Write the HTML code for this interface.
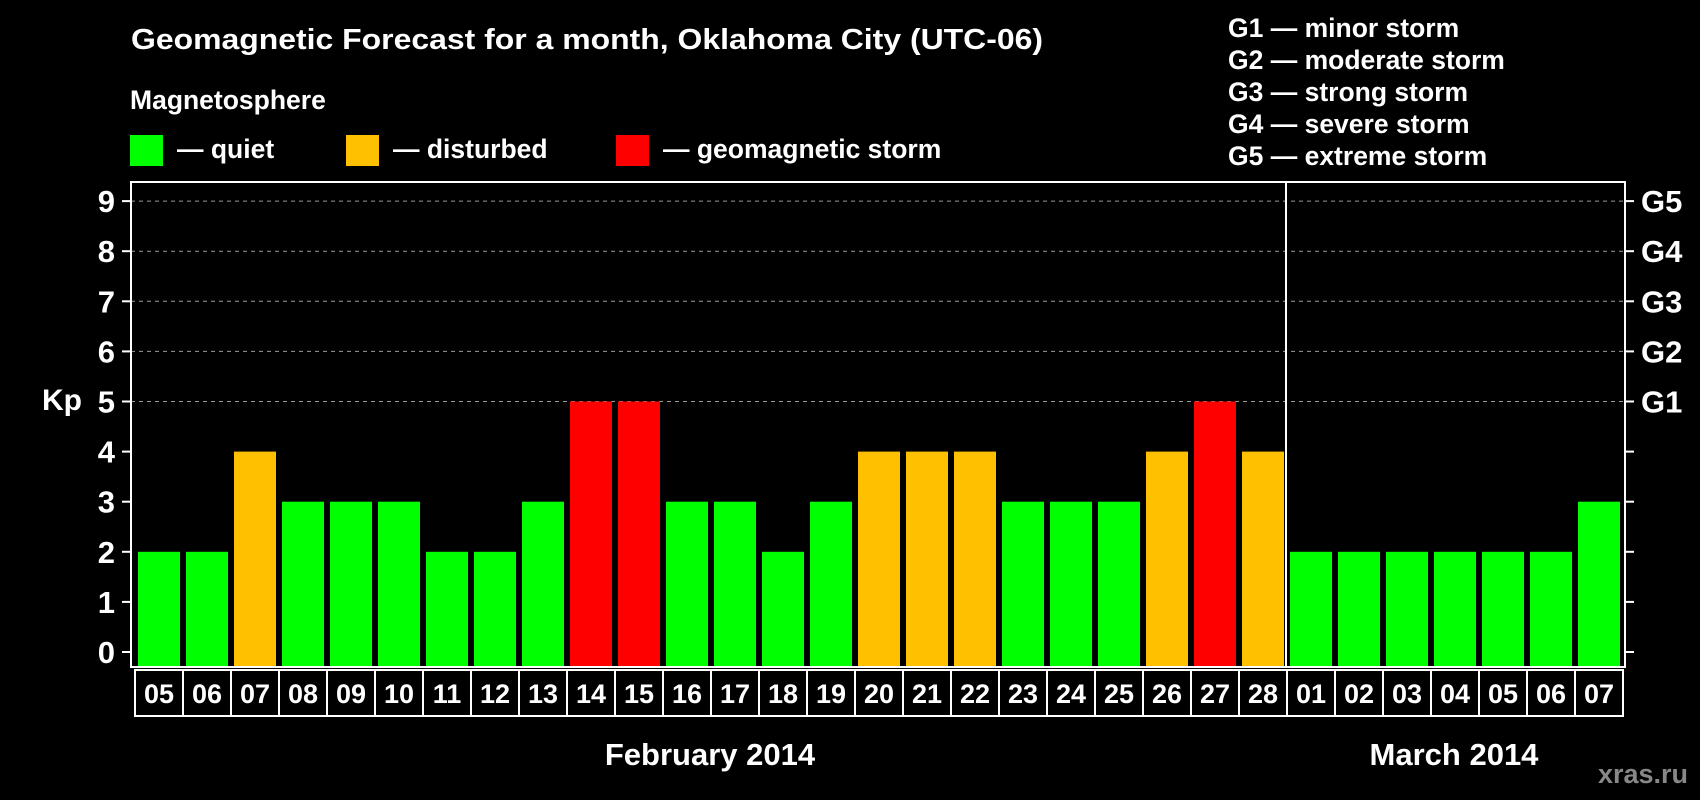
<!DOCTYPE html>
<html><head><meta charset="utf-8"><style>
html,body{margin:0;padding:0;background:#000;}
svg{display:block;font-family:"Liberation Sans",Arial,sans-serif;font-weight:bold;}
</style></head><body>
<svg id="chart" width="1700" height="800" viewBox="0 0 1700 800">
<rect width="1700" height="800" fill="#000"/>
<text x="131" y="49" font-size="29" fill="#fff" textLength="912" lengthAdjust="spacingAndGlyphs">Geomagnetic Forecast for a month, Oklahoma City (UTC-06)</text>
<text x="130" y="109" font-size="26.5" fill="#fff">Magnetosphere</text>
<g><rect x="130" y="135" width="33" height="31" fill="#00ff00"/><text x="177" y="158" font-size="26.5" fill="#fff">— quiet</text></g>
<g><rect x="346" y="135" width="33" height="31" fill="#ffc000"/><text x="393" y="158" font-size="26.5" fill="#fff">— disturbed</text></g>
<g><rect x="616" y="135" width="33" height="31" fill="#ff0000"/><text x="663" y="158" font-size="26.5" fill="#fff">— geomagnetic storm</text></g>
<g font-size="26.5" fill="#fff">
<text x="1228" y="37">G1 — minor storm</text>
<text x="1228" y="69">G2 — moderate storm</text>
<text x="1228" y="101">G3 — strong storm</text>
<text x="1228" y="133">G4 — severe storm</text>
<text x="1228" y="165">G5 — extreme storm</text>
</g>
<text x="42" y="410" font-size="30" fill="#fff">Kp</text>
<g id="grid"></g>
<g id="bars"></g>
<g id="axes"></g>
<text x="710" y="765" font-size="31" fill="#fff" text-anchor="middle">February 2014</text>
<text x="1454" y="765" font-size="31" fill="#fff" text-anchor="middle">March 2014</text>
<text x="1688" y="783" font-size="27" fill="#888" text-anchor="end">xras.ru</text>
</svg>
<script>
const days = ["05","06","07","08","09","10","11","12","13","14","15","16","17","18","19","20","21","22","23","24","25","26","27","28","01","02","03","04","05","06","07"];
const kpValues = [2,2,4,3,3,3,2,2,3,5,5,3,3,2,3,4,4,4,3,3,3,4,5,4,2,2,2,2,2,2,3];
const yTicks = [0,1,2,3,4,5,6,7,8,9];
const gLabels = ["G1","G2","G3","G4","G5"];
const gLevels = [5,6,7,8,9];

const NS="http://www.w3.org/2000/svg";
const X0=135, SLOT=48, BAR=42, FL=131, FR=1625, FT=182, FB=667;
function y(v){return 652-50.1*v;}
function xSlot(i){return X0+SLOT*i;}
function mk(tag,attrs,parent){const e=document.createElementNS(NS,tag);for(const k in attrs)e.setAttribute(k,attrs[k]);parent.appendChild(e);return e;}
function color(v){return v>=5?"#ff0000":(v>=4?"#ffc000":"#00ff00");}
const grid=document.getElementById("grid"), bars=document.getElementById("bars"), axes=document.getElementById("axes");
for(const t of yTicks){
  if(t>=5){const l=mk("line",{x1:FL,x2:FR,y1:y(t),y2:y(t),stroke:"#999","stroke-dasharray":"4,4","stroke-width":1},grid);
  
  }
  const tl=mk("line",{x1:122,x2:FL,y1:y(t),y2:y(t),stroke:"#fff","stroke-width":2},axes);
  
  
  const tr=mk("line",{x1:FR,x2:1634,y1:y(t),y2:y(t),stroke:"#fff","stroke-width":2},axes);
  
  
  const tx=mk("text",{x:115,y:y(t)+11,"font-size":31,fill:"#fff","text-anchor":"end"},axes);
  tx.textContent=t;
  
  
}
gLabels.forEach((g,i)=>{
  const tx=mk("text",{x:1641,y:y(gLevels[i])+11,"font-size":31,fill:"#fff"},axes);
  tx.textContent=g;
  
  
});
kpValues.forEach((v,i)=>{
  const r=mk("rect",{x:xSlot(i)+3,y:y(v),width:BAR,height:666-y(v),fill:color(v)},bars);
  
  
  const c=mk("rect",{x:xSlot(i),y:670,width:SLOT,height:46,fill:"none",stroke:"#fff","stroke-width":2},axes);
  
  
  const t=mk("text",{x:xSlot(i)+SLOT/2,y:703,"font-size":27,fill:"#fff","text-anchor":"middle"},axes);
  t.textContent=days[i];
  
  
});
const f=mk("rect",{x:FL,y:FT,width:FR-FL,height:FB-FT,fill:"none",stroke:"#fff","stroke-width":2},axes);


const sep=mk("line",{x1:xSlot(24)-1,x2:xSlot(24)-1,y1:FT,y2:FB,stroke:"#fff","stroke-width":2},axes);


</script>
</body></html>
